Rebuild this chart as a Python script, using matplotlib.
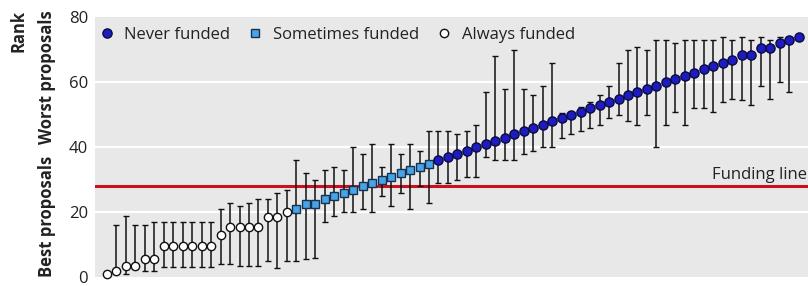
import numpy as np
import matplotlib.pyplot as plt
from matplotlib.lines import Line2D

# median rank of each proposal, ordered left to right
median_rank = [1, 2, 3.5, 3.5, 5.5, 5.5, 9.5, 9.5, 9.5, 9.5,
               9.5, 9.5, 13, 15.5, 15.5, 15.5, 15.5, 18.5, 18.5, 20,
               21, 22.5, 22.5, 24, 25, 26, 27, 28, 29, 30,
               31, 32, 33, 34, 35, 36, 37, 38, 39, 40,
               41, 42, 43, 44, 45, 46, 47, 48, 49, 50,
               51, 52, 53, 54, 55, 56, 57, 58, 59, 60,
               61, 62, 63, 64, 65, 66, 67, 68.5, 68.5, 70.5,
               70.5, 72, 73, 74]
low_rank = [1, 2, 1, 2.5, 2, 2, 3.3, 3.3, 3.3, 3.3,
            3.3, 3.3, 4, 4, 3.5, 3.5, 3.5, 5, 3, 5,
            5, 5.5, 6, 17, 19, 20, 20, 21, 20, 25,
            22, 26, 21, 28, 23, 29, 29, 30, 31, 31,
            37, 36, 36, 36, 38, 39, 40, 40, 43, 44,
            45, 46, 47, 49, 50, 48, 47, 50, 40, 47,
            51, 47, 52, 52, 51, 54, 55, 54.5, 53, 59,
            55, 60, 57, 74]
high_rank = [1, 16, 19, 16, 16, 17, 17, 17, 17, 17,
             17, 17, 21, 23, 22, 23, 24, 24, 26, 27,
             36, 32, 30, 33, 34, 33, 40, 38, 41, 34,
             41, 38, 41, 39, 45, 45, 45, 44, 45, 47,
             57, 68, 58, 70, 58, 56, 59, 66, 50.5, 51,
             52.5, 54, 56, 59, 66, 70, 71, 70, 73, 73,
             72, 73, 73, 73, 73, 74, 73, 74, 73, 74,
             73, 74, 74, 74]
# 0 = always funded, 1 = sometimes funded, 2 = never funded
group = [0] * 20 + [1] * 15 + [2] * 39
group_names = ["Always funded", "Sometimes funded", "Never funded"]
funding_line = 28
y_ticks = [0, 20, 40, 60, 80]

styles = {
    0: dict(marker='o', mfc='white', mec='#111111', ms=6.0),
    1: dict(marker='s', mfc='#4aa3e6', mec='#16324f', ms=6.0),
    2: dict(marker='o', mfc='#1c1cc0', mec='#0a0a40', ms=6.6),
}

TXT = '#222222'


def main():
    plt.rcParams['font.family'] = ['Open Sans', 'DejaVu Sans']
    fig = plt.figure(figsize=(8.08, 2.86), dpi=100)
    ax = fig.add_axes([0.1176, 0.0304, 0.8824, 0.9091])
    ax.set_facecolor('#e8e8e8')

    x = np.arange(len(median_rank))
    med = np.array(median_rank, dtype=float)
    lo = np.array(low_rank, dtype=float)
    hi = np.array(high_rank, dtype=float)
    grp = np.array(group)

    for yv in y_ticks[1:-1]:
        ax.axhline(yv, color='white', lw=1.6, zorder=1)

    ax.axhline(funding_line, color='#c8101e', lw=2.2, zorder=2)
    ax.text(73.9, funding_line + 2.2, "Funding line", ha='right', va='baseline',
            fontsize=12, color=TXT, zorder=3)

    ax.errorbar(x, med, yerr=[med - lo, hi - med], fmt='none', ecolor='#111111',
                elinewidth=1.1, capsize=2.2, capthick=1.0, zorder=3)

    for g in [0, 1, 2]:
        sel = grp == g
        ax.plot(x[sel], med[sel], ls='none', mew=1.0, zorder=4, clip_on=False,
                **styles[g])

    ax.set_xlim(-1.25, 74.0)
    ax.set_ylim(0, 80)
    ax.set_yticks(y_ticks)
    ax.set_xticks([])
    ax.tick_params(axis='y', length=0, pad=5, labelsize=12, labelcolor=TXT)
    for s in ax.spines.values():
        s.set_visible(False)

    handles = [Line2D([], [], ls='none', mew=1.0, **styles[g]) for g in [2, 1, 0]]
    labels = [group_names[g] for g in [2, 1, 0]]
    ax.legend(handles, labels, ncol=3, loc='center left', frameon=False,
              bbox_to_anchor=(0.0074, 0.932), fontsize=12, handlelength=0.8,
              handletextpad=0.65, columnspacing=1.1, borderaxespad=0,
              borderpad=0, labelcolor=TXT)

    fig.text(0.0235, 0.965, "Rank", rotation=90, ha='center', va='top',
             fontsize=12, fontweight='bold', color=TXT)
    fig.text(0.058, 0.965, "Worst proposals", rotation=90, ha='center', va='top',
             fontsize=12, fontweight='bold', color=TXT)
    fig.text(0.058, 0.031, "Best proposals", rotation=90, ha='center', va='bottom',
             fontsize=12, fontweight='bold', color=TXT)

    fig.savefig("out.png", dpi=100)
    plt.close(fig)


if __name__ == "__main__":
    main()
